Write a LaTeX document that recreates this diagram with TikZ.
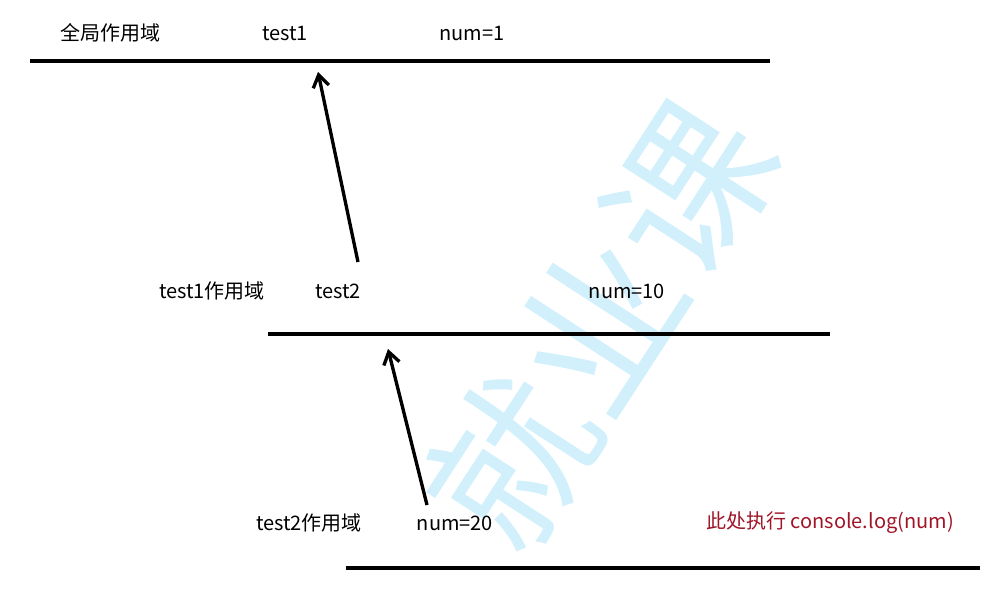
\documentclass[tikz,border=0pt]{standalone}
\usepackage{fontspec}
\setmainfont{Noto Sans CJK SC}
\usetikzlibrary{arrows.meta}
\begin{document}
\begin{tikzpicture}[x=0.75pt,y=-0.75pt,
  lbl/.style={anchor=center,font=\fontsize{15}{17}\selectfont,inner sep=0pt},
  scope line/.style={line width=2.5pt},
  link/.style={line width=2.5pt,-{Straight Barb[length=9pt,width=12pt,line width=2.5pt]}}]
\useasboundingbox (0,0) rectangle (999,596);
\node[rotate=57,text=cyan!18,font=\fontsize{122}{124}\selectfont] (wm) at (600,325) {就业课};
\coordinate (l1a) at (30,61); \coordinate (l1b) at (770,61);
\coordinate (l2a) at (268,334); \coordinate (l2b) at (830,334);
\coordinate (l3a) at (346,568); \coordinate (l3b) at (980,568);
\draw[scope line] (l1a) -- (l1b);
\draw[scope line] (l2a) -- (l2b);
\draw[scope line] (l3a) -- (l3b);
\node[lbl] (g) at (110,33) {全局作用域};
\node[lbl] (t1) at (285,33) {test1};
\node[lbl] (n1) at (472,33) {num=1};
\node[lbl] (s1) at (212,291) {test1作用域};
\node[lbl] (t2) at (338,291) {test2};
\node[lbl] (n10) at (627,291) {num=10};
\node[lbl] (s2) at (309,523) {test2作用域};
\node[lbl] (n20) at (455,523) {num=20};
\node[lbl,text={rgb,255:red,160;green,20;blue,40}] (c) at (830,523) {此处执行 console.log(num)};
\coordinate (a1s) at (358,262); \coordinate (a1e) at (318,72);
\coordinate (a2s) at (427,505); \coordinate (a2e) at (388,349);
\draw[link] (a1s) -- (a1e);
\draw[link] (a2s) -- (a2e);
\end{tikzpicture}
\end{document}
